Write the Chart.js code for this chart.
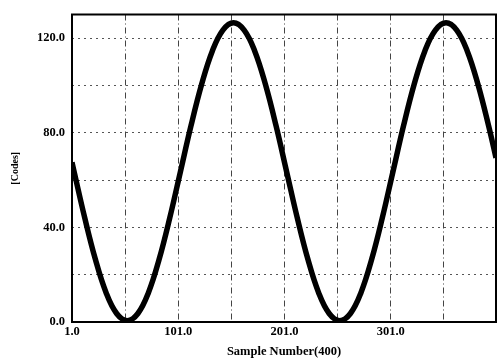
<!DOCTYPE html>
<html>
<head>
<meta charset="utf-8">
<script src="https://cdn.jsdelivr.net/npm/chart.js@4"></script>
<style>
  html, body { margin: 0; padding: 0; background: #fff; }
  #wrap { width: 499px; height: 363px; }
</style>
</head>
<body>
<div id="wrap"><canvas id="scope"></canvas></div>
<script>
// sample index and ADC code
const samples = [1, 3, 13, 23, 33, 43, 53, 63, 73, 83, 93, 103, 113, 123, 133, 143, 153, 163, 173, 183, 193,
    203, 213, 223, 233, 243, 253, 263, 273, 283, 293, 303, 313, 323, 333, 343, 353, 363, 373, 383, 393, 400];
const codes = [67.5, 63.5, 44, 26.5, 12.5, 3.6, 0.5, 3.6, 12.5, 26.5, 44, 63.5, 83, 100.5, 114.5, 123.4, 126.5, 123.4, 114.5, 100.5, 83,
    63.5, 44, 26.5, 12.5, 3.6, 0.5, 3.6, 12.5, 26.5, 44, 63.5, 83, 100.5, 114.5, 123.4, 126.5, 123.4, 114.5, 100.5, 83, 69.4];
const xTicks = [1, 51, 101, 151, 201, 251, 301, 351];
const xLabels = [1, 101, 201, 301];
const yTicks = [0, 20, 40, 60, 80, 100, 120];
const yLabels = [0, 40, 80, 120];

const points = samples.map((s, i) => ({ x: s, y: codes[i] }));
const serif = { family: '"Liberation Serif", "DejaVu Serif", serif', weight: 'bold', size: 12.5 };

const frame = {
    id: 'frame',
    afterDraw(chart) {
        const { ctx, chartArea: a } = chart;
        ctx.save();
        ctx.strokeStyle = '#000';
        ctx.lineWidth = 2;
        ctx.strokeRect(a.left, a.top, a.right - a.left, a.bottom - a.top);
        ctx.restore();
    }
};

new Chart(document.getElementById('scope'), {
    type: 'line',
    data: {
        datasets: [{
            data: points,
            borderColor: '#000',
            borderWidth: 5.5,
            pointRadius: 0,
            tension: 0.4,
            fill: false
        }]
    },
    options: {
        responsive: true,
        maintainAspectRatio: false,
        animation: false,
        layout: { padding: { top: 5, right: 3, left: 0, bottom: 0 } },
        plugins: { legend: { display: false }, tooltip: { enabled: false } },
        scales: {
            x: {
                type: 'linear',
                min: 1,
                max: 400,
                afterBuildTicks: (scale) => { scale.ticks = xTicks.map(v => ({ value: v })); },
                afterFit: (scale) => { scale.height = 41; },
                grid: { color: '#444', lineWidth: 1, drawTicks: false },
                border: { display: false, dash: [6, 3, 1, 3] },
                ticks: {
                    color: '#000',
                    font: serif,
                    padding: 2,
                    maxRotation: 0,
                    autoSkip: false,
                    callback: (v) => xLabels.includes(v) ? v.toFixed(1) : ''
                },
                title: {
                    display: true,
                    text: 'Sample Number(400)',
                    color: '#000',
                    font: serif,
                    padding: { top: 0, bottom: 4 }
                }
            },
            y: {
                min: 0,
                max: 130,
                afterBuildTicks: (scale) => { scale.ticks = yTicks.map(v => ({ value: v })); },
                afterFit: (scale) => { scale.width = 72; },
                grid: { color: '#555', lineWidth: 1, drawTicks: false },
                border: { display: false, dash: [2, 4] },
                ticks: {
                    color: '#000',
                    font: serif,
                    padding: 7,
                    autoSkip: false,
                    callback: (v) => yLabels.includes(v) ? v.toFixed(1) : ''
                },
                title: {
                    display: true,
                    text: '[Codes]',
                    color: '#000',
                    font: { family: serif.family, weight: 'bold', size: 10 },
                    padding: { top: 9, bottom: 0 }
                }
            }
        }
    },
    plugins: [frame]
});
</script>
</body>
</html>
